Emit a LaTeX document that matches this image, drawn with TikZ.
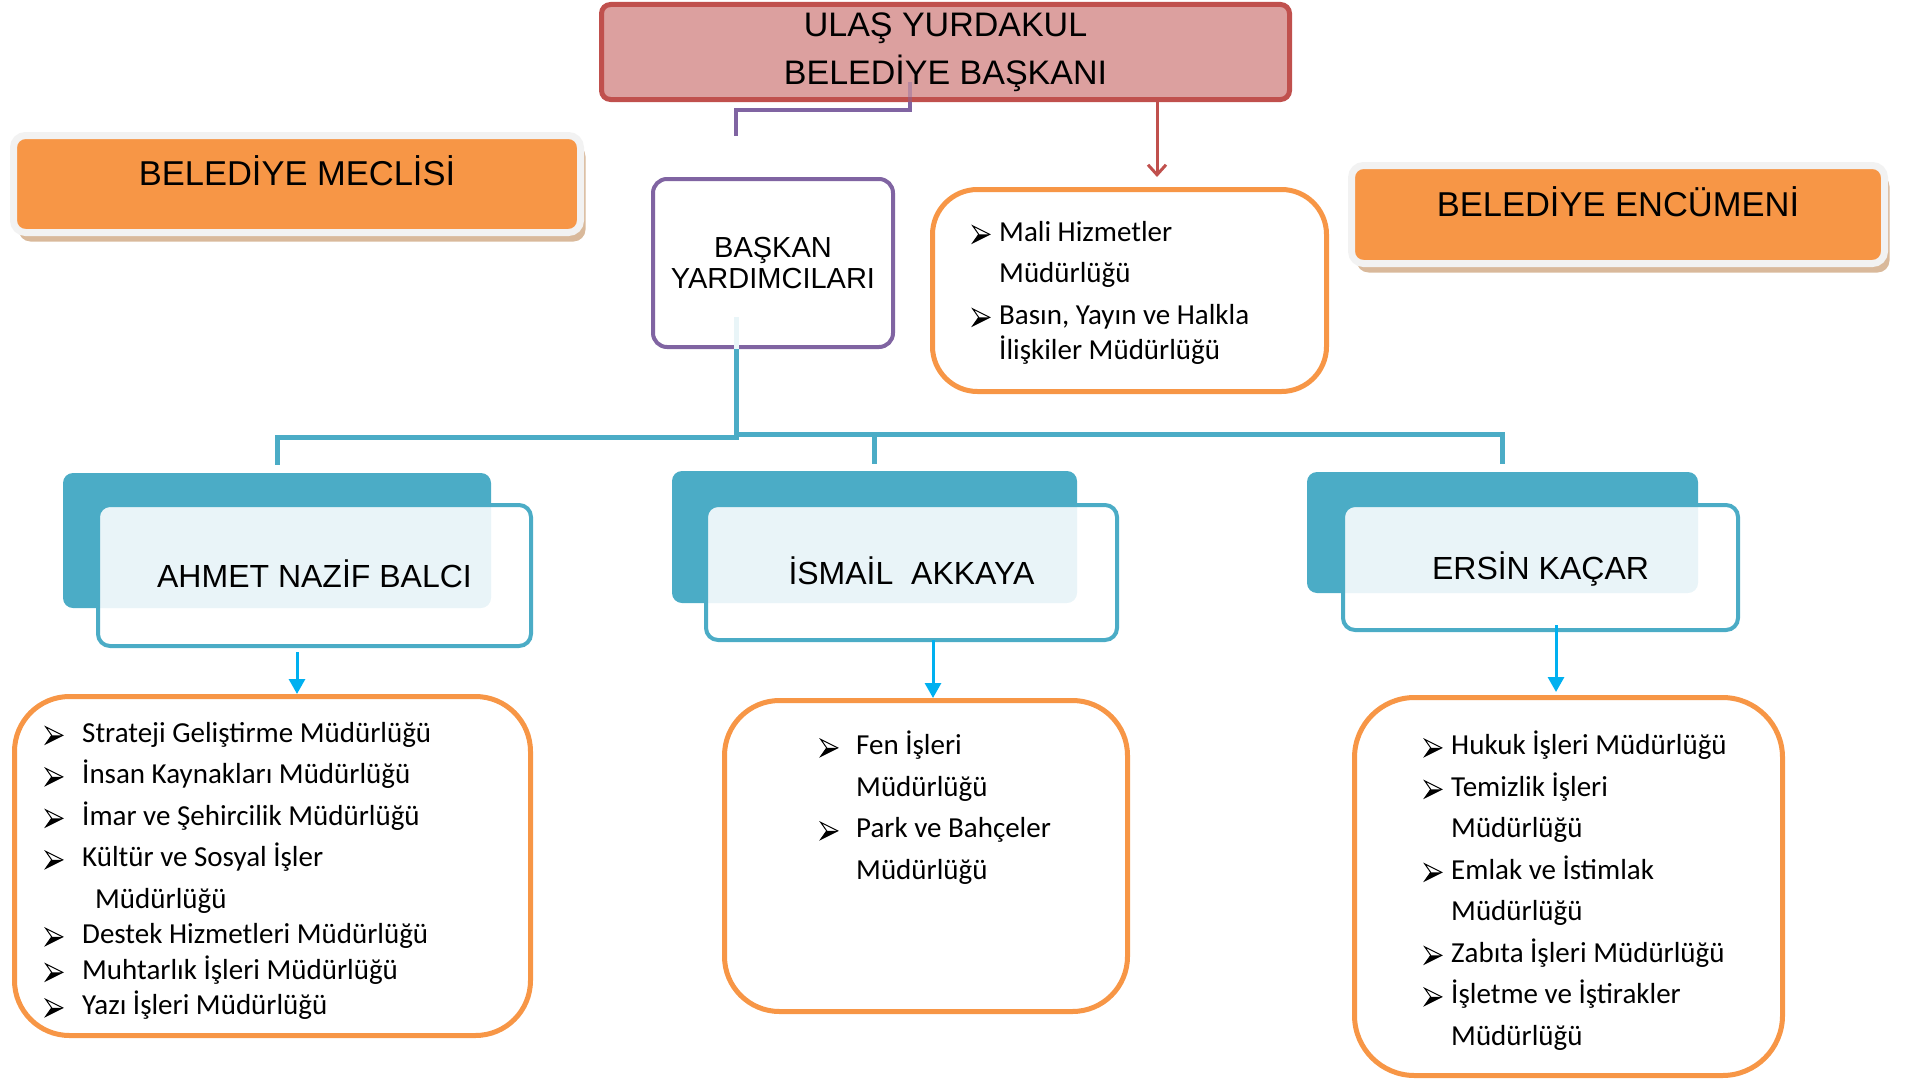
\documentclass[tikz,border=0pt]{standalone}
\usepackage{fontspec}
\usepackage{tkz-euclide}
\usepackage{tikz}
\usetikzlibrary{arrows.meta,shadows}
\setmainfont{Liberation Sans}
\newfontfamily\calfont{Carlito}
\definecolor{baskanfill}{HTML}{DCA09F}
\definecolor{baskanline}{HTML}{C0504D}
\definecolor{mor}{HTML}{8064A2}
\definecolor{turuncu}{HTML}{F79646}
\definecolor{mavi}{HTML}{4BACC6}
\definecolor{camgobegi}{HTML}{00B0F0}
\definecolor{gri}{HTML}{F2F2F2}
\definecolor{golge}{HTML}{CFA882}
\newcommand{\okucu}{\tikz[baseline=0pt,x=1pt,y=1pt,line width=1pt]{%
  \fill (0,-1.5) -- (17,7) -- (6,7) -- cycle;
  \draw (0,-1.5) -- (17,7) -- (0,15.5) -- (6,7) -- cycle;}}
\newcommand{\itm}[2][27pt]{\makebox[#1][l]{\okucu}#2}
\tikzset{
  baskanbox/.style={draw=baskanline, fill=baskanfill, line width=5pt, rounded corners=9pt,
    minimum width=688pt, minimum height=95pt, align=center, font=\fontsize{34pt}{48pt}\selectfont},
  kurulbox/.style={draw=gri, fill=turuncu, line width=7pt, rounded corners=12pt,
    font=\fontsize{34.5pt}{40pt}\selectfont, text height=26pt, text depth=23pt,
    drop shadow={shadow xshift=5pt, shadow yshift=-9pt, fill=golge, opacity=.8}},
  bybox/.style={draw=mor, line width=4pt, rounded corners=14pt, fill=white,
    minimum width=240pt, minimum height=168pt, align=center, font=\fontsize{29pt}{31pt}\selectfont},
  arkabox/.style={fill=mavi, rounded corners=10pt},
  onbox/.style={draw=mavi, line width=4pt, fill=white, fill opacity=.88, text opacity=1,
    rounded corners=12pt, font=\fontsize{32pt}{38pt}\selectfont, text height=23pt, text depth=0pt},
  listebox/.style={draw=turuncu, line width=5pt, rounded corners=55pt, fill=white},
  listemetin/.style={align=left, anchor=north west, inner sep=0pt,
    font=\fontsize{29pt}{41.5pt}\calfont},
  morcizgi/.style={draw=mor, line width=4pt},
  kirmiziok/.style={draw=baskanline, line width=3pt, -{Straight Barb[length=10pt,width=18pt]}},
  agac/.style={draw=mavi, line width=5pt},
  mavok/.style={draw=camgobegi, line width=3pt, -{Triangle[length=15pt,width=16pt]}}
}
\begin{document}
\begin{tikzpicture}[x=1pt, y=-1pt]
    \useasboundingbox (0,0) rectangle (1913,1081);
    \tkzDefPoints{945.5/52/B,773/263/Y,297/184/K,1618/214.5/E,1129.5/290.5/H,736/136/U}
    \tkzDefPoints{277/540.5/A1,314.5/575.5/A2,874.5/537/I1,911.5/572.5/I2,1502.5/532.5/S1,1540.5/567.5/S2}
    \tkzDefPoints{272.5/866/L1,926/856/L2,1568.5/886.5/L3}

    \node[baskanbox] (baskan) at (B) {ULAŞ YURDAKUL\\BELEDİYE BAŞKANI};
    \node[kurulbox, minimum width=567pt, minimum height=97pt] (meclis) at (K) {BELEDİYE MECLİSİ};
    \node[kurulbox, minimum width=533pt, minimum height=98pt] (encumen) at (E) {BELEDİYE ENCÜMENİ};
    \node[bybox] (yard) at (Y) {BAŞKAN\\YARDIMCILARI};
    \node[listebox, rounded corners=45pt, minimum width=394pt, minimum height=202pt] (mali) at (H) {};
    \node[listemetin] (malimetin) at (972,221) {\itm{Mali Hizmetler}\\\hspace*{27pt}Müdürlüğü\\
      \itm{Basın, Yayın ve Halkla}\\[-6pt]\hspace*{27pt}İlişkiler Müdürlüğü};

    \node[arkabox, minimum width=428pt, minimum height=135pt] (ahmetarka) at (A1) {};
    \node[onbox, minimum width=433pt, minimum height=141pt] (ahmet) at (A2) {AHMET NAZİF BALCI};
    \node[arkabox, minimum width=405pt, minimum height=132pt] (ismailarka) at (I1) {};
    \node[onbox, minimum width=411pt, minimum height=135pt] (ismail) at (I2) {İSMAİL\ \ AKKAYA};
    \node[arkabox, minimum width=391pt, minimum height=121pt] (ersinarka) at (S1) {};
    \node[onbox, minimum width=395pt, minimum height=125pt] (ersin) at (S2) {ERSİN KAÇAR};

    \node[listebox, minimum width=516pt, minimum height=339pt] (liste1) at (L1) {};
    \node[listebox, minimum width=403pt, minimum height=311pt] (liste2) at (L2) {};
    \node[listebox, rounded corners=60pt, minimum width=428pt, minimum height=378pt] (liste3) at (L3) {};
    \node[listemetin] (metin1) at (45,722) {\itm[37pt]{Strateji Geliştirme Müdürlüğü}\\
      \itm[37pt]{İnsan Kaynakları Müdürlüğü}\\\itm[37pt]{İmar ve Şehircilik Müdürlüğü}\\
      \itm[37pt]{Kültür ve Sosyal İşler}\\\hspace*{50pt}Müdürlüğü\\[-6pt]
      \itm[37pt]{Destek Hizmetleri Müdürlüğü}\\[-6pt]\itm[37pt]{Muhtarlık İşleri Müdürlüğü}\\[-6pt]
      \itm[37pt]{Yazı İşleri Müdürlüğü}};
    \node[listemetin] (metin2) at (820,731) {\itm[36pt]{Fen İşleri}\\\hspace*{36pt}Müdürlüğü\\
      \itm[36pt]{Park ve Bahçeler}\\\hspace*{36pt}Müdürlüğü};
    \node[listemetin] (metin3) at (1424,731) {\itm{Hukuk İşleri Müdürlüğü}\\\itm{Temizlik İşleri}\\
      \hspace*{27pt}Müdürlüğü\\\itm{Emlak ve İstimlak}\\\hspace*{27pt}Müdürlüğü\\
      \itm{Zabıta İşleri Müdürlüğü}\\\itm{İşletme ve İştirakler}\\\hspace*{27pt}Müdürlüğü};

    \draw[morcizgi, draw opacity=.4] ([xshift=-35.5pt]baskan.south) -- ++(0,-20);
    \draw[morcizgi] ([xshift=-35.5pt]baskan.south) -- ++(0,8) -| (U);
    \draw[kirmiziok, shorten >=10pt] ([xshift=211.5pt]baskan.south) -- ([xshift=211.5pt]baskan.south |- mali.north);
    \draw[agac, draw=mavi!12] ([xshift=-37pt]yard.south) -- ++(0,-32);
    \draw[agac, shorten >=8pt] ([xshift=-37pt]yard.south) -- ++(0,88) -| (ahmetarka.north);
    \draw[agac, shorten >=7pt] ([xshift=-37pt]yard.south) -- ++(0,85) -| (ismailarka.north);
    \draw[agac, shorten >=8pt] ([xshift=-37pt]yard.south) -- ++(0,85) -| (ersinarka.north);
    \draw[mavok, shorten <=4pt] ([xshift=-17.5pt]ahmet.south) -- ([xshift=-17.5pt]ahmet.south |- liste1.north);
    \draw[mavok, shorten <=-2pt] ([xshift=21.5pt]ismail.south) -- ([xshift=21.5pt]ismail.south |- liste2.north);
    \draw[mavok, shorten <=-7pt, shorten >=3pt] ([xshift=15.5pt]ersin.south) -- ([xshift=15.5pt]ersin.south |- liste3.north);
\end{tikzpicture}
\end{document}
